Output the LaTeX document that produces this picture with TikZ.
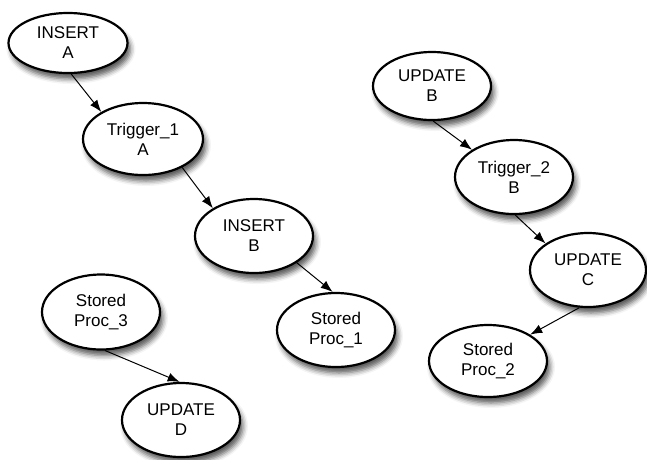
\documentclass[tikz,border=0pt]{standalone}
\usepackage{fontspec}
\setmainfont{Liberation Sans}
\usetikzlibrary{shapes.geometric}
\usetikzlibrary{arrows.meta}
\usetikzlibrary{shadows.blur}

\begin{document}
\begin{tikzpicture}[x=1pt,y=-1pt,
    op/.style={ellipse,draw=black,line width=2.2pt,fill=white,
      minimum width=118pt,minimum height=74pt,inner sep=0pt,align=center,
      font=\fontsize{17}{20}\selectfont,
      blur shadow={shadow xshift=3pt,shadow yshift=-6pt,shadow blur radius=5pt,shadow opacity=65}},
    link/.style={line width=1pt,-{Latex[length=12pt,width=9pt]}}]

    \useasboundingbox (0,0) rectangle (647,459);

    % draw first chain
    \node[op,minimum width=119pt,minimum height=60pt] (insA) at (68,43) {INSERT\\A};
    \node[op,minimum width=120pt,minimum height=72pt] (trigA) at (143,139) {Trigger\_1\\A};
    \node[op] (insB) at (254,236) {INSERT\\B};
    \node[op] (procA) at (336,330) {Stored\\Proc\_1};

    % draw second chain
    \node[op,minimum height=68pt] (updB) at (432,86) {UPDATE\\B};
    \node[op] (trigB) at (514,177) {Trigger\_2\\B};
    \node[op,minimum width=116pt] (updC) at (588,270) {UPDATE\\C};
    \node[op,minimum height=72pt] (procB) at (488,361) {Stored\\Proc\_2};

    % draw third chain
    \node[op,minimum height=75pt] (procC) at (101,312) {Stored\\Proc\_3};
    \node[op] (updD) at (181,420) {UPDATE\\D};

    % draw edges
    \draw[link] (insA.-84) -- (trigA.147);
    \draw[link] (trigA.-36) -- (insB.146);
    \draw[link] (insB.-32) -- (procA.95);
    \draw[link] (updB.-88) -- (trigB.147);
    \draw[link] (trigB.-88) -- (updC.148);
    \draw[link] (updC.-103) -- (procB.32);
    \draw[link] (procC.-84) -- (updD.92);
\end{tikzpicture}
\end{document}
